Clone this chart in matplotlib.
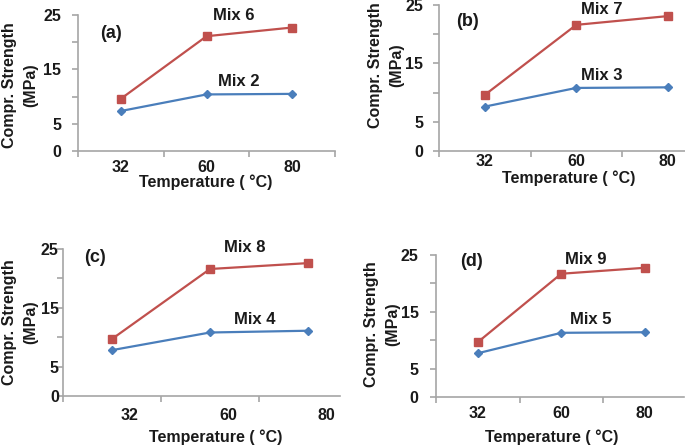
import matplotlib
matplotlib.use('Agg')
import matplotlib.pyplot as plt
from matplotlib.transforms import ScaledTranslation

plt.rcParams['font.family'] = ['Liberation Sans', 'DejaVu Sans']
plt.rcParams['font.weight'] = 'bold'

# 数据: 温度分类 + 各组抗压强度 (MPa)
temps = ['32', '60', '80']
panel_tags = ['(a)', '(b)', '(c)', '(d)']
red_names = ['Mix 6', 'Mix 7', 'Mix 8', 'Mix 9']
blue_names = ['Mix 2', 'Mix 3', 'Mix 4', 'Mix 5']
red_a = [9.6, 21.1, 22.7]
blue_a = [7.35, 10.4, 10.5]
red_b = [9.6, 21.6, 23.1]
blue_b = [7.6, 10.8, 10.9]
red_c = [9.7, 21.6, 22.6]
blue_c = [7.8, 10.8, 11.1]
red_d = [9.65, 21.7, 22.75]
blue_d = [7.7, 11.3, 11.4]
reds = [red_a, red_b, red_c, red_d]
blues = [blue_a, blue_b, blue_c, blue_d]

yticks = [0, 5, 10, 15, 20, 25]
ylabels = ['0', '5', '', '15', '', '25']

W, H = 685, 447
RED = '#C0504D'
BLUE = '#4A7EBB'
GRID = '#A6A6A6'
TXT = '#1a1a1a'

# 布局 (像素): left, top, bottom, spacing, xlim右端, ylabel中心, tag中心, xlabel(中心x, 顶y),
#            x刻度pad, x刻度dx, y刻度pad, 红标签(x,y), 蓝标签(x,y)
layout = [
    dict(l=78, t=15, b=151, sp=85.7, xr=2.5, yl=(20, 85), tag=(111, 33), xl=(206, 174),
         xpad=2.2, xdx=0, ypad=8, rlab=(234, 15), blab=(239, 81)),
    dict(l=439, t=5, b=151, sp=91.5, xr=2.19, yl=(386, 65), tag=(468, 22), xl=(569, 170),
         xpad=-2, xdx=0, ypad=7.5, rlab=(602, 10), blab=(602, 75)),
    dict(l=63, t=249, b=396, sp=98, xr=2.33, yl=(20, 322), tag=(95, 258), xl=(216, 429),
         xpad=5, xdx=18, ypad=-1, rlab=(245, 248), blab=(255, 319)),
    dict(l=436, t=255, b=397, sp=83.5, xr=2.47, yl=(382, 324), tag=(471, 262), xl=(552, 429),
         xpad=2.2, xdx=0, ypad=8.5, rlab=(586, 259), blab=(591, 319)),
]

fig = plt.figure(figsize=(W / 100, H / 100), dpi=100)

for i, p in enumerate(layout):
    wpx = (p['xr'] + 0.5) * p['sp']
    hpx = p['b'] - p['t']
    ax = fig.add_axes([p['l'] / W, 1 - p['b'] / H, wpx / W, hpx / H])
    x = range(len(temps))
    ax.plot(x, reds[i], color=RED, lw=1.6, marker='s', ms=6, clip_on=False)
    ax.plot(x, blues[i], color=BLUE, lw=1.6, marker='D', ms=3.8, clip_on=False)
    ax.set_xlim(-0.5, p['xr'])
    ax.set_ylim(0, 25)

    for s in ['top', 'right']:
        ax.spines[s].set_visible(False)
    for s in ['left', 'bottom']:
        ax.spines[s].set_color(GRID)
        ax.spines[s].set_linewidth(1.2)

    # 类别轴: 刻度线在类别之间, 标签在类别中心
    ax.set_xticks([k - 0.5 for k in range(4) if k - 0.5 <= p['xr']])
    ax.set_xticklabels([])
    ax.set_xticks(list(x), minor=True)
    ax.set_xticklabels(temps, minor=True, fontsize=11.5, fontweight='bold', color=TXT)
    ax.tick_params(axis='x', which='major', length=4, color=GRID, width=1.2)
    ax.tick_params(axis='x', which='minor', length=0, pad=4 + p['xpad'])
    if p['xdx']:
        off = ScaledTranslation(p['xdx'] / 100, 0, fig.dpi_scale_trans)
        for lab in ax.get_xticklabels(minor=True):
            lab.set_transform(lab.get_transform() + off)

    ax.set_yticks(yticks)
    ax.set_yticklabels(ylabels, fontsize=11.5, fontweight='bold', color=TXT)
    ax.tick_params(axis='y', length=4, color=GRID, width=1.2, pad=p['ypad'])

    def fx(px):
        return (px - p['l']) / wpx

    def fy(py):
        return (p['b'] - py) / hpx

    ax.text(fx(p['yl'][0]), fy(p['yl'][1]), 'Compr. Strength\n(MPa)', rotation=90,
            ha='center', va='center', fontsize=11.5, fontweight='bold', color=TXT,
            linespacing=1.5, transform=ax.transAxes)
    ax.text(fx(p['tag'][0]), fy(p['tag'][1]), panel_tags[i], ha='center', va='center',
            fontsize=13, fontweight='bold', color=TXT, transform=ax.transAxes)
    ax.text(fx(p['xl'][0]), fy(p['xl'][1]), 'Temperature ( °C)', ha='center', va='top',
            fontsize=11.5, fontweight='bold', color=TXT, transform=ax.transAxes)
    ax.text(fx(p['rlab'][0]), fy(p['rlab'][1]), red_names[i], ha='center', va='center',
            fontsize=12, fontweight='bold', color=TXT, transform=ax.transAxes)
    ax.text(fx(p['blab'][0]), fy(p['blab'][1]), blue_names[i], ha='center', va='center',
            fontsize=12, fontweight='bold', color=TXT, transform=ax.transAxes)

fig.savefig('out.png', dpi=100)
